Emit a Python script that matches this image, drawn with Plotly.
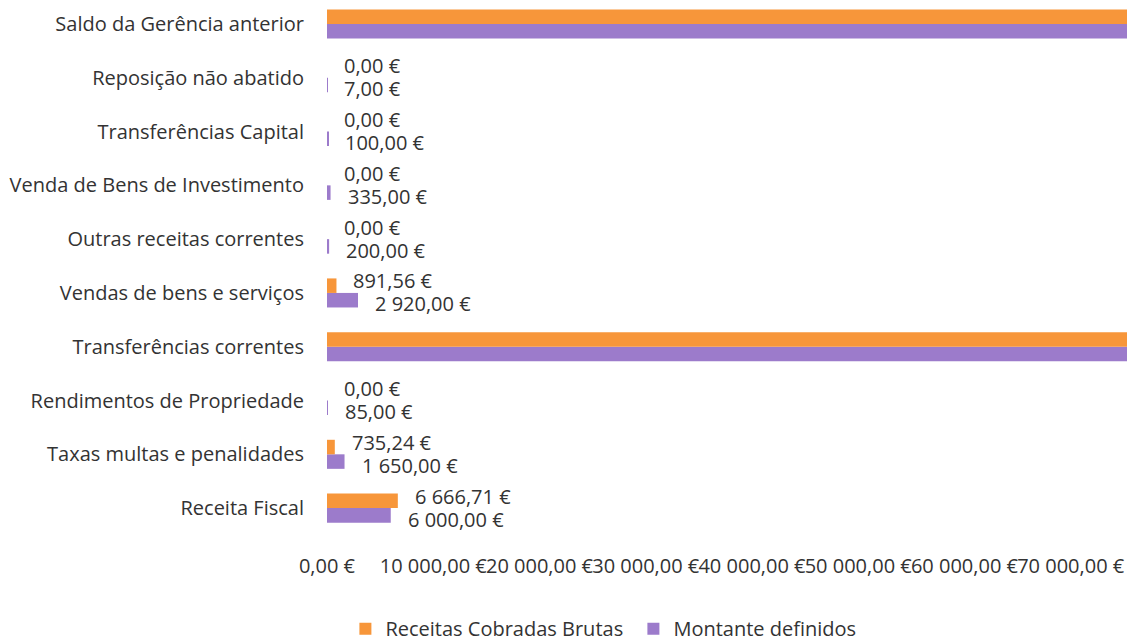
import plotly.graph_objects as go

categories = [
    "Receita Fiscal",
    "Taxas multas e penalidades",
    "Rendimentos de Propriedade",
    "Transferências correntes",
    "Vendas de bens e serviços",
    "Outras receitas correntes",
    "Venda de Bens de Investimento",
    "Transferências Capital",
    "Reposição não abatido",
    "Saldo da Gerência anterior",
]
# values for the two very long bars run past the visible edge; estimated
receitas_cobradas = [6666.71, 735.24, 0.00, 95000.0, 891.56, 0.00, 0.00, 0.00, 0.00, 90000.0]
montante_definidos = [6000.00, 1650.00, 85.00, 95000.0, 2920.00, 200.00, 335.00, 100.00, 7.00, 90000.0]

tick_values = [0, 10000, 20000, 30000, 40000, 50000, 60000, 70000]
tick_labels = ["0,00 €", "10 000,00 €", "20 000,00 €", "30 000,00 €",
               "40 000,00 €", "50 000,00 €", "60 000,00 €", "70 000,00 €"]

X_MAX = 75300
ORANGE = "#F7963A"
PURPLE = "#9C7BCB"
FONT = "Open Sans"
FS = 20
TXT = "#333333"


def eur(v):
    s = f"{v:,.2f}"
    s = s.replace(",", " ").replace(".", ",")
    return s + " €"


fig = go.Figure()
# purple first so that it sits below the orange bar within each group
fig.add_trace(go.Bar(
    y=categories, x=montante_definidos, orientation="h",
    name="Montante definidos", marker=dict(color=PURPLE, line_width=0),
    legendrank=2, hoverinfo="skip",
))
fig.add_trace(go.Bar(
    y=categories, x=receitas_cobradas, orientation="h",
    name="Receitas Cobradas Brutas", marker=dict(color=ORANGE, line_width=0),
    legendrank=1, hoverinfo="skip",
))

annotations = []
for series, dy in ((receitas_cobradas, 12), (montante_definidos, -11)):
    for cat, v in zip(categories, series):
        if v > X_MAX:
            continue
        annotations.append(dict(
            x=v, y=cat, xref="x", yref="y", text=eur(v), showarrow=False,
            xanchor="left", yanchor="middle", xshift=15, yshift=dy,
            font=dict(family=FONT, size=FS, color=TXT),
        ))

fig.update_layout(
    width=1130, height=641,
    barmode="group", bargap=0.46, bargroupgap=0,
    plot_bgcolor="white", paper_bgcolor="white",
    margin=dict(l=327, r=3, t=0, b=106, autoexpand=False),
    font=dict(family=FONT, size=FS, color=TXT),
    annotations=annotations,
    legend=dict(orientation="h", x=0.023, xanchor="left", y=-0.175, yanchor="middle",
                font=dict(family=FONT, size=FS, color=TXT),
                itemwidth=30, entrywidth=243),
    showlegend=True,
)
fig.update_xaxes(
    range=[0, X_MAX], tickvals=tick_values, ticktext=tick_labels, tickangle=0,
    showgrid=False, zeroline=False, showline=False, automargin=False,
    ticks="outside", ticklen=13, tickcolor="rgba(0,0,0,0)",
    tickfont=dict(family=FONT, size=FS, color=TXT),
)
fig.update_yaxes(
    range=[-0.5, 9.446], showgrid=False, zeroline=False, showline=False, automargin=False,
    ticks="outside", ticklen=18, tickcolor="rgba(0,0,0,0)",
    tickfont=dict(family=FONT, size=FS, color=TXT),
)

fig.write_html(
    "out.html",
    config={"displayModeBar": False},
    post_script="document.body.style.margin='0';document.body.style.overflow='hidden';",
)
